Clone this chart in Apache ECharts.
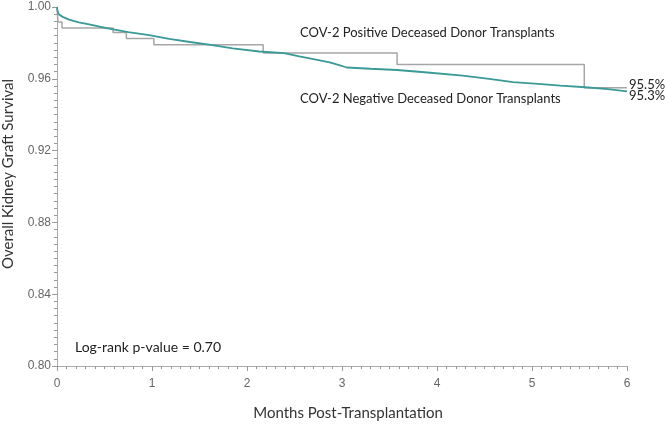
<!DOCTYPE html>
<html>
<head>
<meta charset="utf-8">
<script src="https://cdn.jsdelivr.net/npm/echarts@6/dist/echarts.min.js"></script>
<style>html,body{margin:0;padding:0;background:#fff}#c{width:665px;height:426px}</style>
</head>
<body>
<div id="c"></div>
<script>
// Months post-transplantation for the step changes of the COV-2 positive group
var positiveTimes = [0, 0.01, 0.053, 0.59, 0.73, 1.02, 2.17, 3.58, 5.55, 6];
var positiveSurvival = [1.0, 0.9916, 0.9883, 0.9858, 0.9825, 0.9789, 0.9744, 0.968, 0.955, 0.955];
// COV-2 negative group (dense KM curve)
var negativeTimes = [0, 0.005, 0.02, 0.06, 0.127, 0.23, 0.338, 0.45, 0.549, 0.75, 0.97, 1.18, 1.4, 1.6, 1.85, 2.13, 2.39, 2.55, 2.7, 2.87, 2.97, 3.05, 3.3, 3.58, 3.9, 4.27, 4.55, 4.8, 5.1, 5.3, 5.56, 5.8, 6];
var negativeSurvival = [1.0, 0.998, 0.9958, 0.9945, 0.993, 0.9915, 0.9903, 0.989, 0.988, 0.986, 0.9843, 0.9822, 0.9805, 0.979, 0.977, 0.9752, 0.9743, 0.9725, 0.971, 0.9691, 0.9676, 0.9663, 0.9656, 0.9649, 0.9635, 0.9618, 0.96, 0.9581, 0.957, 0.9562, 0.9553, 0.9542, 0.953];
var yTicks = [0.80, 0.84, 0.88, 0.92, 0.96, 1.00];
var xTicks = [0, 1, 2, 3, 4, 5, 6];
var positiveName = 'COV-2 Positive Deceased Donor Transplants';
var negativeName = 'COV-2 Negative Deceased Donor Transplants';
var pValueText = 'Log-rank p-value = 0.70';
var xTitle = 'Months Post-Transplantation';
var yTitle = 'Overall Kidney Graft Survival';

function zip(a, b) { return a.map(function (v, i) { return [v, b[i]]; }); }

var font = 'Lato, "Open Sans", sans-serif';
var axisGrey = '#aaaaaa';
var tickGrey = '#999999';
var chart = echarts.init(document.getElementById('c'), null, {renderer: 'canvas'});
chart.setOption({
  animation: false,
  grid: {left: 57, right: 38, top: 7, bottom: 50, containLabel: false},
  xAxis: {
    type: 'value', min: xTicks[0], max: xTicks[xTicks.length - 1], interval: 1,
    name: xTitle, nameLocation: 'middle', nameGap: 40,
    nameTextStyle: {fontFamily: font, fontSize: 15, color: '#333', padding: [0, 0, 0, 12]},
    axisLine: {show: true, onZero: false, lineStyle: {color: axisGrey, width: 1}},
    axisTick: {show: true, inside: false, length: 5, lineStyle: {color: tickGrey, width: 1}},
    minorTick: {show: true, splitNumber: 10, length: 3, lineStyle: {color: tickGrey, width: 1}},
    axisLabel: {show: true, fontFamily: 'Arial, "Liberation Sans", sans-serif', fontSize: 12, color: '#666', margin: 12},
    splitLine: {show: false}
  },
  yAxis: {
    type: 'value', min: yTicks[0], max: yTicks[yTicks.length - 1], interval: 0.04,
    axisLine: {show: true, onZero: false, lineStyle: {color: axisGrey, width: 1}},
    axisTick: {show: true, inside: false, length: 5, lineStyle: {color: tickGrey, width: 1}},
    minorTick: {show: true, splitNumber: 10, length: 3, lineStyle: {color: tickGrey, width: 1}},
    axisLabel: {show: true, fontFamily: 'Arial, "Liberation Sans", sans-serif', fontSize: 12, color: '#666', margin: 6,
      formatter: function (v) { return v.toFixed(2); }},
    splitLine: {show: false}
  },
  series: [
    {
      name: positiveName, type: 'line', step: 'end', showSymbol: false,
      data: zip(positiveTimes, positiveSurvival),
      lineStyle: {color: '#a6a6a6', width: 1.5},
      itemStyle: {color: '#a6a6a6'},
      z: 2,
      endLabel: {show: true, fontFamily: font, fontSize: 13, color: '#222', distance: 2, offset: [0, -3],
        formatter: function (p) { return (p.value[1] * 100).toFixed(1) + '%'; }}
    },
    {
      name: negativeName, type: 'line', showSymbol: false,
      data: zip(negativeTimes, negativeSurvival),
      lineStyle: {color: '#3a9a98', width: 1.8},
      itemStyle: {color: '#3a9a98'},
      z: 3,
      endLabel: {show: true, fontFamily: font, fontSize: 13, color: '#222', distance: 2, offset: [0, 4],
        formatter: function (p) { return (p.value[1] * 100).toFixed(1) + '%'; }}
    }
  ],
  graphic: [
    {type: 'text', left: 300, top: 26, style: {text: positiveName, font: '13px ' + font, fill: '#222'}},
    {type: 'text', left: 300, top: 92, style: {text: negativeName, font: '13px ' + font, fill: '#222'}},
    {type: 'text', left: 75, top: 340, style: {text: pValueText, font: '14px ' + font, fill: '#222'}},
    {type: 'text', x: 8, y: 174, rotation: Math.PI / 2,
      style: {text: yTitle, font: '15px ' + font, fill: '#333', align: 'center', verticalAlign: 'middle'}}
  ]
});
</script>
</body>
</html>
